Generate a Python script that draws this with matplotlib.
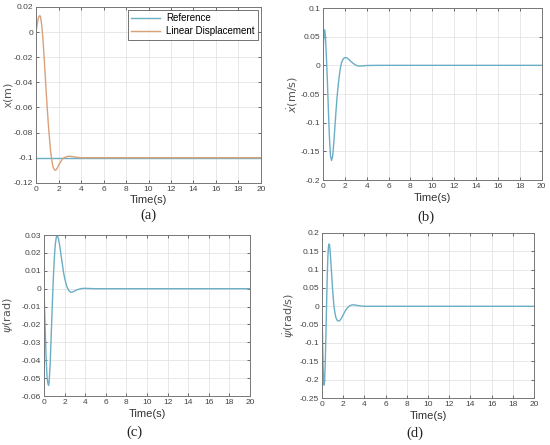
import numpy as np
import matplotlib
matplotlib.use("Agg")
import matplotlib.pyplot as plt

plt.rcParams['font.family'] = ['Liberation Sans', 'DejaVu Sans']

# ---- data ----
t_a = [0, 0.1, 0.2, 0.3, 0.35, 0.4, 0.5, 0.6, 0.7, 0.8, 0.9, 1.0, 1.1, 1.2, 1.3, 1.4, 1.5,
       1.6, 1.7, 1.8, 1.9, 2.0, 2.2, 2.4, 2.6, 2.8, 3.0, 3.2, 3.5, 3.8, 4.0, 5, 20]
x_disp = [0, 0.006, 0.011, 0.0128, 0.013, 0.012, 0.006, -0.004, -0.017, -0.032, -0.047, -0.061,
          -0.074, -0.085, -0.095, -0.102, -0.107, -0.109, -0.110, -0.1095, -0.108, -0.106,
          -0.103, -0.1005, -0.0995, -0.099, -0.0988, -0.099, -0.0995, -0.0998, -0.1, -0.1, -0.1]
t_ref = [0, 20]
x_ref = [-0.1, -0.1]

t_b = [0, 0.05, 0.1, 0.15, 0.2, 0.25, 0.3, 0.4, 0.5, 0.6, 0.7, 0.8, 0.9, 1.0, 1.1, 1.2, 1.3,
       1.4, 1.5, 1.6, 1.7, 1.8, 1.9, 2.0, 2.1, 2.2, 2.4, 2.6, 2.8, 3.0, 3.2, 3.4, 3.6, 4.0, 5, 20]
x_vel = [0, 0.035, 0.055, 0.062, 0.058, 0.045, 0.025, -0.02, -0.075, -0.125, -0.158, -0.166,
         -0.158, -0.135, -0.108, -0.08, -0.055, -0.035, -0.018, -0.005, 0.004, 0.009, 0.012,
         0.0135, 0.0135, 0.013, 0.01, 0.006, 0.003, 0.0005, -0.001, -0.0012, -0.001, -0.0003, 0, 0]

t_c = [0, 0.1, 0.2, 0.3, 0.4, 0.45, 0.5, 0.6, 0.7, 0.8, 0.9, 1.0, 1.1, 1.2, 1.3, 1.4, 1.5, 1.6,
       1.7, 1.8, 1.9, 2.0, 2.2, 2.4, 2.6, 2.8, 3.0, 3.2, 3.5, 3.8, 4.0, 5, 20]
psi = [0, -0.02, -0.038, -0.05, -0.0535, -0.054, -0.052, -0.042, -0.026, -0.01, 0.005, 0.017,
       0.025, 0.029, 0.0295, 0.028, 0.025, 0.021, 0.017, 0.013, 0.009, 0.006, 0.0015, -0.001,
       -0.002, -0.0018, -0.0012, -0.0006, -0.0001, 0.0002, 0.0002, 0, 0]

t_d = [0, 0.05, 0.1, 0.15, 0.2, 0.25, 0.3, 0.35, 0.4, 0.45, 0.5, 0.55, 0.6, 0.65, 0.7, 0.75,
       0.8, 0.9, 1.0, 1.1, 1.2, 1.3, 1.4, 1.5, 1.6, 1.7, 1.8, 1.9, 2.0, 2.2, 2.4, 2.6, 2.8, 3.0,
       3.2, 3.5, 3.8, 4.0, 5, 20]
psi_vel = [0, -0.09, -0.16, -0.205, -0.215, -0.2, -0.16, -0.1, -0.035, 0.03, 0.09, 0.135, 0.16,
           0.17, 0.168, 0.155, 0.135, 0.09, 0.045, 0.008, -0.015, -0.03, -0.037, -0.04, -0.04,
           -0.038, -0.034, -0.029, -0.023, -0.012, -0.004, 0.001, 0.0035, 0.004, 0.003, 0.0015,
           0.0005, 0, 0, 0]

time_ticks = np.arange(0, 21, 2)

blue = '#6aaec6'
orange = '#d9a07a'
tick_col = '#555555'


def style(ax, ylim, yticks, ylabel, ylab_x):
    ax.set_xlim(0, 20)
    ax.set_ylim(*ylim)
    ax.set_xticks(time_ticks)
    ax.set_yticks(yticks)
    ax.set_yticklabels([f'{v:g}' for v in yticks])
    ax.grid(True, color='#e4e4e4', linewidth=0.6)
    ax.tick_params(direction='in', top=True, right=True, length=2.5, width=0.6,
                   labelsize=6, colors=tick_col, labelcolor='#444444', pad=2)
    for s in ax.spines.values():
        s.set_color('#777777')
        s.set_linewidth(0.7)
    ax.set_xlabel('Time(s)', fontsize=8, color='#333333', labelpad=2)
    ax.set_ylabel(ylabel, fontsize=8, color='#555555')
    ax.yaxis.set_label_coords(ylab_x, 0.5)


fig = plt.figure(figsize=(5.5, 4.45), dpi=100)

ax_a = fig.add_axes([0.0655, 0.589, 0.409, 0.3955])
ax_a.plot(t_ref, x_ref, color=blue, lw=1.0, label='Reference')
ax_a.plot(t_a, x_disp, color=orange, lw=1.0, label='Linear Displacement')
style(ax_a, (-0.12, 0.02), [-0.12, -0.1, -0.08, -0.06, -0.04, -0.02, 0, 0.02],
      r'x$(\mathrm{m})$', -0.095)
leg = ax_a.legend(loc='upper right', fontsize=7, frameon=True, fancybox=False,
                  borderpad=0.35, handlelength=3.0, labelspacing=0.3, borderaxespad=0.3,
                  handletextpad=0.6)
leg.get_frame().set_edgecolor('#333333')
leg.get_frame().set_linewidth(0.6)

ax_b = fig.add_axes([0.587, 0.5955, 0.398, 0.3865])
ax_b.plot(t_b, x_vel, color=blue, lw=1.0)
style(ax_b, (-0.2, 0.1), [-0.2, -0.15, -0.1, -0.05, 0, 0.05, 0.1],
      r'$\dot{x}(\mathrm{m/s})$', -0.105)

ax_c = fig.add_axes([0.08, 0.110, 0.3745, 0.3618])
ax_c.plot(t_c, psi, color=blue, lw=1.0)
style(ax_c, (-0.06, 0.03), [-0.06, -0.05, -0.04, -0.03, -0.02, -0.01, 0, 0.01, 0.02, 0.03],
      r'$\psi(\mathrm{rad})$', -0.14)

ax_d = fig.add_axes([0.5855, 0.1056, 0.3855, 0.371])
ax_d.plot(t_d, psi_vel, color=blue, lw=1.0)
style(ax_d, (-0.25, 0.2), [-0.25, -0.2, -0.15, -0.1, -0.05, 0, 0.05, 0.1, 0.15, 0.2],
      r'$\dot{\psi}(\mathrm{rad/s})$', -0.12)

for lab, (x, y) in zip(['(a)', '(b)', '(c)', '(d)'],
                       [(148, 215), (426, 217), (134, 432), (415, 433)]):
    fig.text(x / 550, 1 - y / 445, lab, ha='center', va='center', fontsize=10.5,
             family='Liberation Serif', color='#222222')

fig.savefig('out.png', dpi=100)
